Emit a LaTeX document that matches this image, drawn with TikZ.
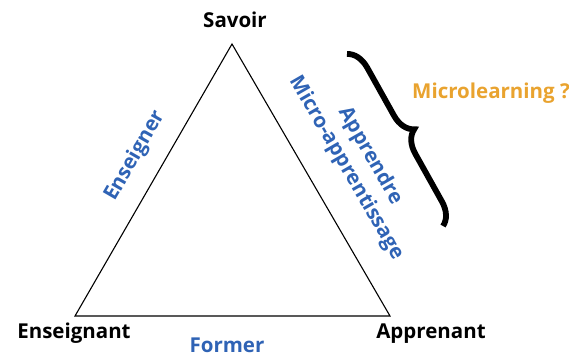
\documentclass[tikz,border=0pt]{standalone}
\usepackage{fontspec}
\setmainfont{Open Sans}
\usetikzlibrary{decorations.pathreplacing}
\definecolor{lblue}{RGB}{47,99,181}
\definecolor{lorange}{RGB}{233,163,47}
\begin{document}
\begin{tikzpicture}[x=1pt,y=-1pt,
  lab/.style={font=\bfseries\fontsize{20.5}{24}\selectfont, inner sep=0pt},
  vert/.style={lab, text=black},
  edgelab/.style={lab, text=lblue},
  side/.style={draw=black, line width=1.1pt, line join=miter},
  bigbrace/.style={draw=black, line width=5.8pt, decorate,
    decoration={brace, amplitude=22pt}}]
\useasboundingbox (0,0) rectangle (569,354);
\coordinate (S) at (232,44);
\coordinate (E) at (75,316);
\coordinate (P) at (390,316);
\draw[side] (S) -- (E) -- (P) -- cycle;
\node[vert, anchor=base] (savoir) at (235,27) {Savoir};
\node[vert, anchor=base] (ens) at (74,338) {Enseignant};
\node[vert, anchor=base] (app) at (431,338) {Apprenant};
\node[edgelab, anchor=base] (former) at (227,352) {Former};
\node[edgelab, rotate=60] (enseigner) at (135,156) {Enseigner};
\node[edgelab, rotate=-60] (apprendre) at (370,156) {Apprendre};
\node[edgelab, rotate=-60] (micro) at (346,168) {Micro-apprentissage};
\node[lab, text=lorange] (ml) at (491,93) {Microlearning ?};
\coordinate (b1) at (347,54);
\coordinate (b2) at (443,226);
\draw[bigbrace] (b1) -- (b2);
\end{tikzpicture}
\end{document}
